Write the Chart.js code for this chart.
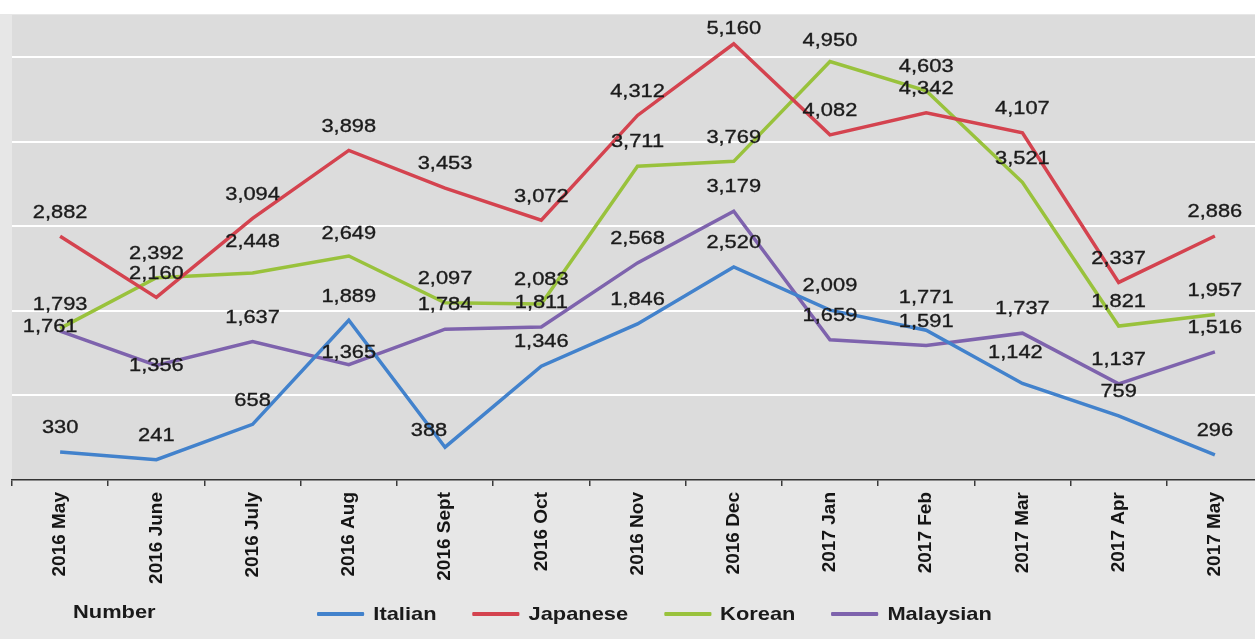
<!DOCTYPE html>
<html>
<head>
<meta charset="utf-8">
<script src="https://cdn.jsdelivr.net/npm/chart.js@4.4.1/dist/chart.umd.min.js"></script>
<style>
  html, body { margin: 0; padding: 0; overflow: hidden; }
  body {
    width: 1255px; height: 639px; position: relative;
    background: linear-gradient(#ffffff 0, #ffffff 14px, #e7e7e7 14px);
    font-family: 'Liberation Sans', Arial, sans-serif;
  }
  #wrap { position: absolute; left: 0; top: 0; width: 1275px; height: 639px; }
  .stretch { transform: scaleX(1.15); transform-origin: left center; }
  #axisName { position: absolute; left: 73px; top: 601px; font-weight: bold; font-size: 19px; color: #1a1a1a; }
  #legend { position: absolute; left: 317px; top: 603px; display: flex; align-items: center; font-weight: bold; font-size: 19px; color: #1a1a1a; }
  .item { display: flex; align-items: center; margin-right: 31px; }
  .swatch { width: 41px; height: 4px; margin-right: 8px; border-radius: 1px; }
</style>
</head>
<body>
<div id="wrap"><canvas id="chart" width="1275" height="639"></canvas></div>
<div id="axisName" class="stretch">Number</div>
<div id="legend" class="stretch"></div>
<script>
// values
const months = ['2016 May', '2016 June', '2016 July', '2016 Aug', '2016 Sept', '2016 Oct', '2016 Nov',
                '2016 Dec', '2017 Jan', '2017 Feb', '2017 Mar', '2017 Apr', '2017 May'];
const italian   = [330, 241, 658, 1889, 388, 1346, 1846, 2520, 2009, 1771, 1142, 759, 296];
const japanese  = [2882, 2160, 3094, 3898, 3453, 3072, 4312, 5160, 4082, 4342, 4107, 2337, 2886];
const korean    = [1793, 2392, 2448, 2649, 2097, 2083, 3711, 3769, 4950, 4603, 3521, 1821, 1957];
const malaysian = [1761, 1356, 1637, 1365, 1784, 1811, 2568, 3179, 1659, 1591, 1737, 1137, 1516];
const gridValues = [0, 1000, 2000, 3000, 4000, 5000];
const seriesNames = ['Italian', 'Japanese', 'Korean', 'Malaysian'];
const seriesColors = ['#4282cc', '#d4434f', '#99c23c', '#7e63ad'];

// labels sit 24px above their point; a few are moved like in the original
const labelNudge = {
    'Italian':   { 4: [-16, 8], 9: [0, -9], 10: [-7, -7] },
    'Japanese':  { 7: [0, 9] },
    'Korean':    { 2: [0, -7], 3: [0, 2], 8: [0, 3] },
    'Malaysian': { 0: [-10, 20], 1: [0, 24], 3: [0, 12] }
};

const fmt = v => v.toLocaleString('en-US');

const plotBackground = {
    id: 'plotBackground',
    beforeDraw(chart) {
        const a = chart.chartArea;
        const ctx = chart.ctx;
        ctx.save();
        ctx.fillStyle = '#dcdcdc';
        ctx.fillRect(a.left, a.top, a.right - a.left, a.bottom - a.top);
        ctx.restore();
    }
};

const pointLabels = {
    id: 'pointLabels',
    afterDatasetsDraw(chart) {
        const ctx = chart.ctx;
        ctx.save();
        ctx.font = '19px "Liberation Sans", Arial, sans-serif';
        ctx.fillStyle = '#1b1b1b';
        ctx.strokeStyle = '#1b1b1b';
        ctx.lineWidth = 0.35;
        ctx.textAlign = 'center';
        ctx.textBaseline = 'middle';
        chart.data.datasets.forEach((ds, di) => {
            const meta = chart.getDatasetMeta(di);
            const nudges = labelNudge[ds.label] || {};
            meta.data.forEach((pt, i) => {
                const n = nudges[i] || [0, 0];
                ctx.save();
                ctx.translate(pt.x + n[0], pt.y - 24 + n[1]);
                ctx.scale(1.15, 1);
                ctx.fillText(fmt(ds.data[i]), 0, 0);
                ctx.strokeText(fmt(ds.data[i]), 0, 0);
                ctx.restore();
            });
        });
        ctx.restore();
    }
};

const seriesData = [italian, japanese, korean, malaysian];
const datasets = seriesNames.map((name, i) => ({
    label: name,
    data: seriesData[i],
    borderColor: seriesColors[i],
    backgroundColor: seriesColors[i],
    borderWidth: 3.5,
    pointRadius: 0,
    tension: 0
}));

new Chart(document.getElementById('chart').getContext('2d'), {
    type: 'line',
    data: { labels: months, datasets: datasets },
    options: {
        responsive: false,
        animation: false,
        layout: { padding: { left: 12, right: 12, top: 15, bottom: 0 } },
        plugins: { legend: { display: false }, tooltip: { enabled: false } },
        scales: {
            x: {
                offset: true,
                grid: { offset: true, drawOnChartArea: false, drawTicks: true, tickLength: 6, color: '#3a3a3a', lineWidth: 1.5 },
                border: { display: true, color: '#333333', width: 1.5 },
                ticks: {
                    minRotation: 90, maxRotation: 90, autoSkip: false, padding: 6, color: '#151515',
                    font: { family: '"Liberation Sans", Arial, sans-serif', size: 19, weight: 'bold' }
                },
                afterFit(scale) { scale.height = 159; }
            },
            y: {
                min: 0, max: 5500,
                ticks: { display: false },
                afterBuildTicks(scale) { scale.ticks = gridValues.map(v => ({ value: v })); },
                border: { display: false },
                grid: {
                    drawTicks: false, lineWidth: 2,
                    color: c => (c.tick && c.tick.value > 0) ? '#ffffff' : 'rgba(0,0,0,0)'
                }
            }
        }
    },
    plugins: [plotBackground, pointLabels]
});

// legend built from the same series
const legend = document.getElementById('legend');
seriesNames.forEach((name, i) => {
    const item = document.createElement('div');
    item.className = 'item';
    const sw = document.createElement('span');
    sw.className = 'swatch';
    sw.style.background = seriesColors[i];
    const tx = document.createElement('span');
    tx.textContent = name;
    item.appendChild(sw);
    item.appendChild(tx);
    legend.appendChild(item);
});
</script>
</body>
</html>
